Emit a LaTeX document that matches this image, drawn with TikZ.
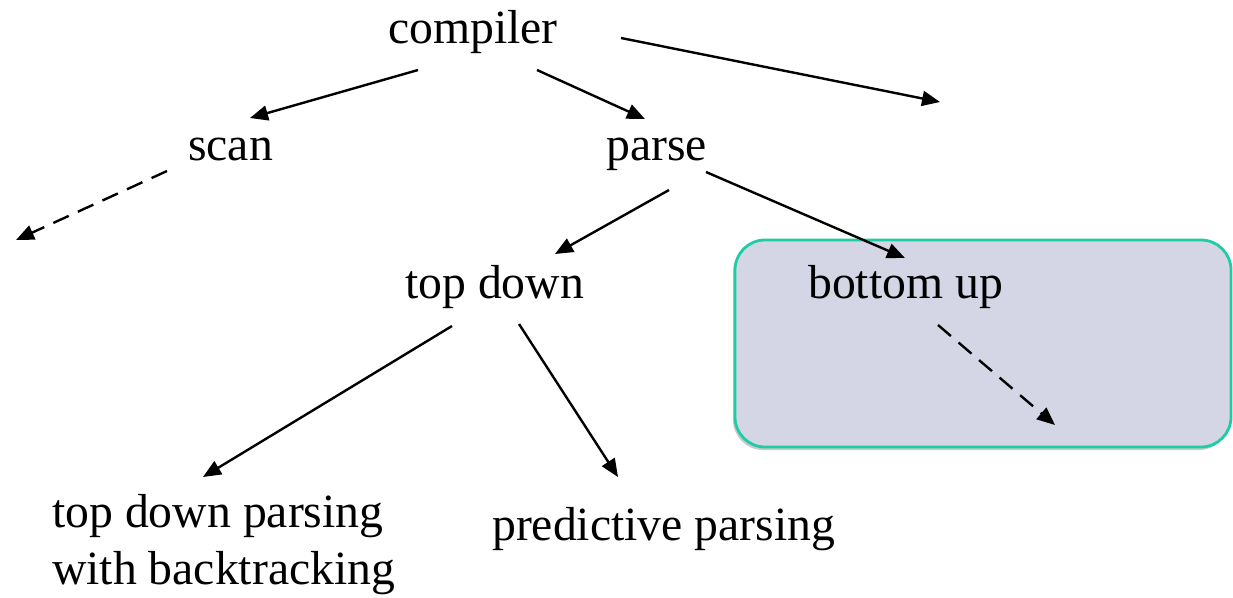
\documentclass[tikz,border=0pt]{standalone}
\usepackage{fontspec}
\setmainfont{Liberation Serif}
\usetikzlibrary{arrows.meta,shadows}
\definecolor{boxfill}{RGB}{212,214,230}
\definecolor{boxline}{RGB}{32,204,165}
\tikzset{
  lbl/.style={anchor=base west, inner sep=0pt, font=\fontsize{47.7}{57}\selectfont},
  link/.style={line width=2.4pt, -{Triangle[length=18pt,width=15pt]}},
  dlink/.style={link, dash pattern=on 17pt off 10pt},
  groupbox/.style={draw=boxline, fill=boxfill, line width=2.8pt, rounded corners=30pt,
    drop shadow={shadow xshift=-2pt, shadow yshift=-3pt, opacity=0.35, fill=black!60}}
}
\begin{document}
\begin{tikzpicture}[x=1pt, y=-1pt]
\useasboundingbox (0,0) rectangle (1233,597);

% highlighted group around "bottom up"
\path[groupbox] (735,240) rectangle (1231,447);

% labels (placed by their baselines)
\node[lbl] (compiler) at (388,43) {compiler};
\node[lbl] (scan) at (188,160) {scan};
\node[lbl] (parse) at (606,160) {parse};
\node[lbl] (topdown) at (405,298) {top down};
\node[lbl] (bottomup) at (808,298) {bottom up};
\node[lbl, align=left] (backtrack) at (52,584) {top down parsing\\with backtracking};
\node[lbl] (predictive) at (492,540) {predictive parsing};

% connector end points
\coordinate (c-s1) at (418,70);   \coordinate (c-s2) at (250,118);
\coordinate (c-p1) at (537,70);   \coordinate (c-p2) at (645,119);
\coordinate (c-r1) at (621,38);   \coordinate (c-r2) at (940,102);
\coordinate (s-l1) at (167,171);  \coordinate (s-l2) at (16,240);
\coordinate (p-t1) at (669,190);  \coordinate (p-t2) at (555,254);
\coordinate (p-b1) at (706,172);  \coordinate (p-b2) at (905,258);
\coordinate (b-d1) at (938,325);  \coordinate (b-d2) at (1055,425);
\coordinate (t-k1) at (452,326);  \coordinate (t-k2) at (203,477);
\coordinate (t-v1) at (519,324);  \coordinate (t-v2) at (618,477);

% connectors
\draw[link] (c-s1) -- (c-s2);
\draw[link] (c-p1) -- (c-p2);
\draw[link] (c-r1) -- (c-r2);
\draw[dlink] (s-l1) -- (s-l2);
\draw[link] (p-t1) -- (p-t2);
\draw[link] (p-b1) -- (p-b2);
\draw[dlink] (b-d1) -- (b-d2);
\draw[link] (t-k1) -- (t-k2);
\draw[link] (t-v1) -- (t-v2);
\end{tikzpicture}
\end{document}
